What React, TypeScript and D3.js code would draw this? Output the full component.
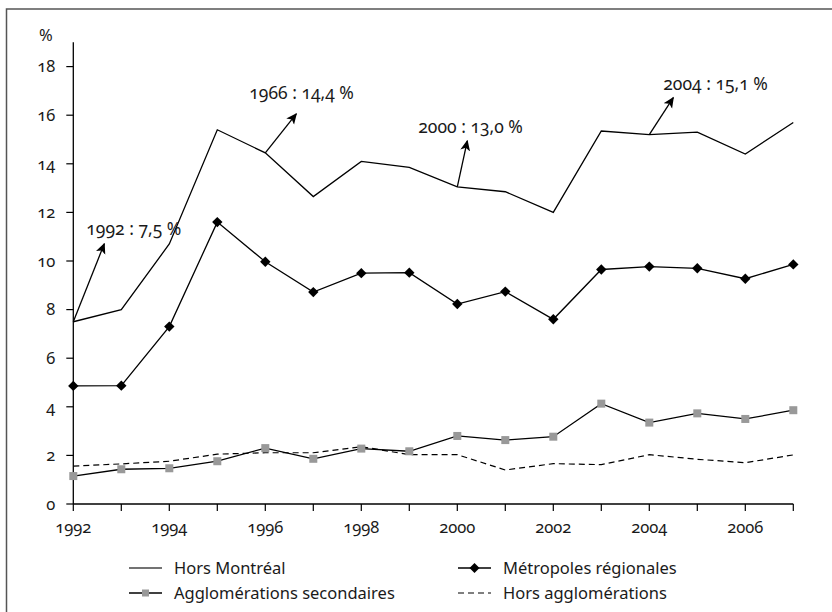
import React from "react";
import * as d3 from "d3";

const years = [1992, 1993, 1994, 1995, 1996, 1997, 1998, 1999, 2000, 2001, 2002, 2003, 2004, 2005, 2006, 2007];
const horsMontreal = [7.5, 8.0, 10.7, 15.4, 14.45, 12.65, 14.1, 13.85, 13.05, 12.85, 12.0, 15.35, 15.2, 15.3, 14.4, 15.7];
const metropoles = [4.86, 4.87, 7.3, 11.6, 9.97, 8.72, 9.5, 9.52, 8.23, 8.74, 7.6, 9.65, 9.77, 9.7, 9.27, 9.86];
const agglosSecondaires = [1.15, 1.43, 1.47, 1.76, 2.3, 1.86, 2.28, 2.17, 2.8, 2.63, 2.77, 4.13, 3.35, 3.73, 3.5, 3.86];
const horsAgglos = [1.56, 1.65, 1.76, 2.05, 2.11, 2.11, 2.36, 2.03, 2.03, 1.4, 1.66, 1.62, 2.03, 1.84, 1.7, 2.02];
const xTicks = [1992, 1994, 1996, 1998, 2000, 2002, 2004, 2006];
const yTicks = [0, 2, 4, 6, 8, 10, 12, 14, 16, 18];
const annotationYears = [1992, 1996, 2000, 2004];
const annotationLabels = ["1992 : 7,5 %", "1966 : 14,4 %", "2000 : 13,0 %", "2004 : 15,1 %"];
const legendLabels = ["Hors Montréal", "Métropoles régionales", "Agglomérations secondaires", "Hors agglomérations"];

// layout (pixel offsets for annotations)
const arrowOffsets = [[31, -78], [31, -39], [10, -46], [24, -37]];
const labelOffsets = [[13, -93], [-16, -60], [-39, -60], [14, -51]];

const FONT = "'Noto Sans', 'Open Sans', sans-serif";

export default function App() {
  const x = d3.scaleLinear().domain([1992, 2007]).range([73.3, 793.3]);
  const y = d3.scaleLinear().domain([0, 19]).range([504, 42.3]);
  const line = d3
    .line<number>()
    .x((_, i) => x(years[i]))
    .y((d) => y(d));

  const diamond = (cx: number, cy: number, r: number) =>
    `M${cx},${cy - r}L${cx + r},${cy}L${cx},${cy + r}L${cx - r},${cy}Z`;

  const textStyle: React.CSSProperties = {
    fontFamily: FONT,
    fontVariantNumeric: "oldstyle-nums",
    fill: "#1a1a1a",
  };

  const legendRows = [568, 593];
  const legendCols = [129, 458];
  const legendItems = legendLabels.map((label, i) => ({
    label,
    x0: legendCols[i % 2],
    yy: legendRows[Math.floor(i / 2)],
    kind: i,
  }));

  return (
    <svg
      width={832}
      height={612}
      style={{ position: "absolute", left: 0, top: 0, background: "#fff" }}
    >
      <defs>
        <marker id="arrow" viewBox="0 0 10 10" refX="9" refY="5" markerWidth="11" markerHeight="11" markerUnits="userSpaceOnUse" orient="auto">
          <path d="M0,0.5 L10,5 L0,9.5 L2.5,5 Z" fill="#000" />
        </marker>
      </defs>
      <rect x={6.5} y={9} width={840} height={640} fill="none" stroke="#555" strokeWidth={1.5} />

      {/* axes */}
      <line x1={x(1992)} x2={x(1992)} y1={y(0)} y2={y(19)} stroke="#000" strokeWidth={1.3} />
      <line x1={x(1992)} x2={x(2007)} y1={y(0)} y2={y(0)} stroke="#000" strokeWidth={1.3} />
      {yTicks.map((t) => (
        <g key={"y" + t}>
          <line x1={x(1992) - 7} x2={x(1992)} y1={y(t)} y2={y(t)} stroke="#000" strokeWidth={1.2} />
          <text x={x(1992) - 18} y={y(t)} dy="0.35em" textAnchor="end" fontSize={16.5} style={textStyle}>
            {t}
          </text>
        </g>
      ))}
      <text x={39} y={35} dy="0.35em" fontSize={16.5} style={textStyle}>%</text>
      {years.map((yr) => (
        <line key={"xt" + yr} x1={x(yr)} x2={x(yr)} y1={y(0)} y2={y(0) + 7} stroke="#000" strokeWidth={1.2} />
      ))}
      {xTicks.map((t) => (
        <text key={"xl" + t} x={x(t)} y={527} dy="0.35em" textAnchor="middle" fontSize={16.5} style={textStyle}>
          {t}
        </text>
      ))}

      {/* series */}
      <path d={line(horsAgglos) || ""} fill="none" stroke="#000" strokeWidth={1.2} strokeDasharray="6,4" />
      <path d={line(agglosSecondaires) || ""} fill="none" stroke="#000" strokeWidth={1.3} />
      {agglosSecondaires.map((v, i) => (
        <rect key={"s" + i} x={x(years[i]) - 4} y={y(v) - 4} width={8} height={8} fill="#999" />
      ))}
      <path d={line(metropoles) || ""} fill="none" stroke="#000" strokeWidth={1.3} />
      {metropoles.map((v, i) => (
        <path key={"m" + i} d={diamond(x(years[i]), y(v), 5.2)} fill="#000" />
      ))}
      <path d={line(horsMontreal) || ""} fill="none" stroke="#000" strokeWidth={1.3} />

      {/* annotations */}
      {annotationYears.map((yr, i) => {
        const idx = years.indexOf(yr);
        const px = x(yr);
        const py = y(horsMontreal[idx]);
        return (
          <g key={"a" + i}>
            <line
              x1={px}
              y1={py}
              x2={px + arrowOffsets[i][0]}
              y2={py + arrowOffsets[i][1]}
              stroke="#000"
              strokeWidth={1.3}
              markerEnd="url(#arrow)"
            />
            <text
              x={px + labelOffsets[i][0]}
              y={py + labelOffsets[i][1]}
              dy="0.35em"
              fontSize={17.5}
              style={textStyle}
            >
              {annotationLabels[i]}
            </text>
          </g>
        );
      })}

      {/* legend */}
      {legendItems.map((it) => (
        <g key={"l" + it.kind}>
          {it.kind === 3 ? (
            <line x1={it.x0} x2={it.x0 + 33} y1={it.yy} y2={it.yy} stroke="#000" strokeWidth={1.2} strokeDasharray="6,4" />
          ) : (
            <line x1={it.x0} x2={it.x0 + 33} y1={it.yy} y2={it.yy} stroke={it.kind === 0 ? "#444" : "#000"} strokeWidth={1.3} />
          )}
          {it.kind === 1 && <path d={diamond(it.x0 + 16.5, it.yy, 5)} fill="#000" />}
          {it.kind === 2 && <rect x={it.x0 + 16.5 - 3.5} y={it.yy - 3.5} width={7} height={7} fill="#999" />}
          <text x={it.x0 + 45} y={it.yy} dy="0.35em" fontSize={16.5} style={textStyle}>
            {it.label}
          </text>
        </g>
      ))}
    </svg>
  );
}
